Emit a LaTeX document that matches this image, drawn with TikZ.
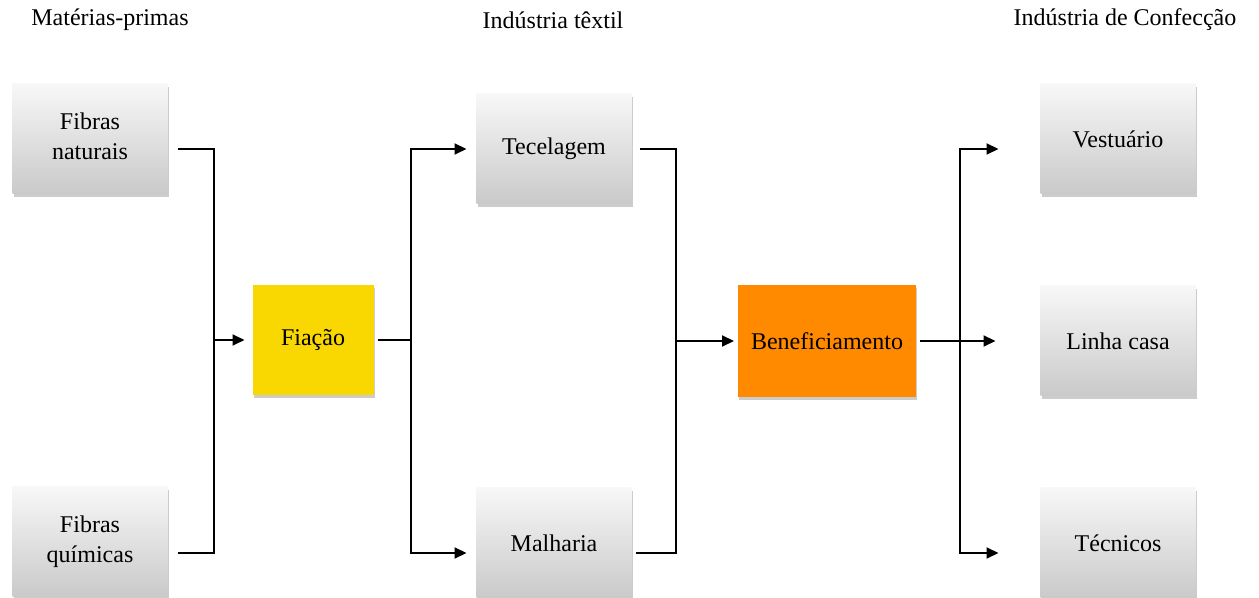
\documentclass[tikz,border=0pt]{standalone}
\usepackage{fontspec}
\setmainfont{Liberation Serif}
\usetikzlibrary{arrows.meta,backgrounds}
\definecolor{fiacaoyellow}{HTML}{F9D700}
\definecolor{benefOrange}{HTML}{FF8A00}
\newcommand{\twolines}[2]{\begin{tabular}{@{}c@{}}#1\\#2\end{tabular}}
\tikzset{
  stage/.style={minimum width=77.5pt,minimum height=55pt,inner sep=0pt,outer sep=2pt,
    top color=gray!6,bottom color=gray!42},
  hub/.style={minimum height=55pt,inner sep=0pt,outer sep=2pt},
  link/.style={line width=1pt},
  flow/.style={line width=1pt,-{Triangle[length=6pt,width=5.5pt]}}
}
\begin{document}
\begin{tikzpicture}[x=0.5pt,y=-0.5pt,font=\rmfamily\fontsize{12}{15}\selectfont]
    \useasboundingbox (0,0) rectangle (1259,598);
    % column titles
    \node (tmat) at (110,20) {Matérias-primas};
    \node (ttex) at (553,20) {Indústria têxtil};
    \node (tconf) at (1125,20) {Indústria de Confecção};
    % stages
    \node[stage] (naturais) at (90,139) {\twolines{Fibras}{naturais}};
    \node[stage] (quimicas) at (90,542) {\twolines{Fibras}{químicas}};
    \node[hub,fill=fiacaoyellow,minimum width=60.5pt] (fiacao) at (313,340) {Fiação};
    \node[stage] (tecelagem) at (554,149) {Tecelagem};
    \node[stage] (malharia) at (554,543) {Malharia};
    \node[hub,fill=benefOrange,minimum width=89pt,minimum height=56pt] (benef) at (827,341) {Beneficiamento};
    \node[stage] (vestuario) at (1118,139) {Vestuário};
    \node[stage] (linha) at (1118,341) {Linha casa};
    \node[stage] (tecnicos) at (1118,543) {Técnicos};
    % shadows
    \begin{pgfonlayer}{background}
      \foreach \n in {naturais,quimicas,fiacao,tecelagem,malharia,benef,vestuario,linha,tecnicos}
        \fill[black!20] ([shift={(2.6pt,0.6pt)}]\n.south west) rectangle ([shift={(-1.4pt,-3.4pt)}]\n.north east);
    \end{pgfonlayer}
    % junctions
    \coordinate (j1) at (214,340);
    \coordinate (j2) at (411,340);
    \coordinate (j3) at (676,341);
    \coordinate (j4) at (960,341);
    % connectors
    \draw[link,shorten <=3pt] ([yshift=-5pt]naturais.east) -| (j1);
    \draw[link,shorten <=3pt] ([yshift=-5.5pt]quimicas.east) -| (j1);
    \draw[flow,shorten >=2pt] (j1) -- (fiacao);
    \draw[link] (fiacao) -- (j2);
    \draw[flow,shorten >=3pt] (j2) |- (tecelagem);
    \draw[flow,shorten >=3pt] (j2) |- ([yshift=-5pt]malharia.west);
    \draw[link,shorten <=2pt] (tecelagem) -| (j3);
    \draw[link] ([yshift=-5pt]malharia.east) -| (j3);
    \draw[flow] (j3) -- (benef);
    \draw[flow,shorten >=20.5pt] (benef) -- (linha);
    \draw[flow,shorten >=19pt] (j4) |- ([yshift=-5pt]vestuario.west);
    \draw[flow,shorten >=19pt] (j4) |- ([yshift=-5pt]tecnicos.west);
\end{tikzpicture}
\end{document}
